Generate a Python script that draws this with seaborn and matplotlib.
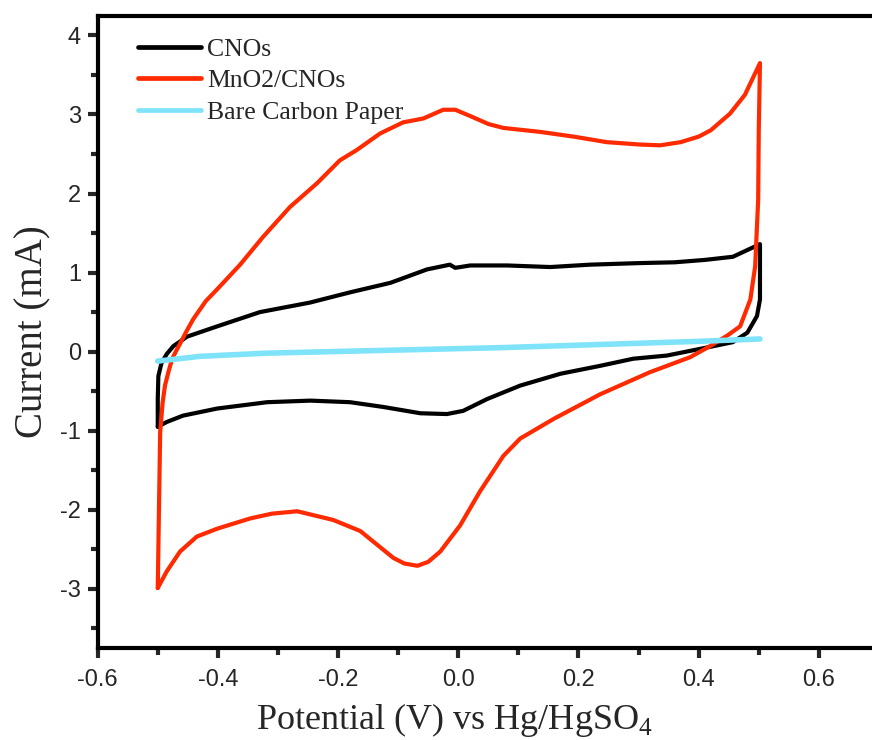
import matplotlib
matplotlib.use("Agg")
import matplotlib.pyplot as plt
import seaborn as sns
import pandas as pd
from matplotlib.ticker import MultipleLocator

# ---- data ----
cnos_v = [-0.500, -0.500, -0.499, -0.494, -0.485, -0.474, -0.451, -0.401, -0.330, -0.247,
          -0.180, -0.113, -0.052, -0.014, -0.005, 0.020, 0.081, 0.153, 0.219, 0.302,
          0.360, 0.410, 0.457, 0.502,
          0.502, 0.497, 0.481, 0.457, 0.419, 0.347, 0.291, 0.236, 0.170, 0.103,
          0.048, 0.008, -0.019, -0.063, -0.125, -0.180, -0.246, -0.318, -0.401,
          -0.458, -0.485, -0.500]
cnos_i = [-0.95, -0.60, -0.31, -0.15, -0.03, 0.07, 0.19, 0.32, 0.50, 0.62,
          0.75, 0.87, 1.04, 1.10, 1.06, 1.09, 1.09, 1.07, 1.10, 1.12,
          1.13, 1.16, 1.20, 1.36,
          0.66, 0.45, 0.24, 0.12, 0.06, -0.05, -0.09, -0.18, -0.28, -0.43,
          -0.60, -0.75, -0.79, -0.78, -0.70, -0.64, -0.62, -0.64, -0.72,
          -0.81, -0.89, -0.95]

mno2_v = [-0.500, -0.498, -0.496, -0.492, -0.488, -0.482, -0.476, -0.470, -0.463, -0.452,
          -0.441, -0.420, -0.401, -0.363, -0.325, -0.280, -0.235, -0.197, -0.169, -0.130,
          -0.092, -0.058, -0.025, -0.005, 0.020, 0.050, 0.075, 0.136, 0.192, 0.247,
          0.302, 0.336, 0.370, 0.400, 0.420, 0.452, 0.477, 0.502,
          0.500, 0.499, 0.494, 0.486, 0.469, 0.447, 0.419, 0.386, 0.319, 0.236,
          0.159, 0.103, 0.075, 0.036, 0.003, -0.030, -0.050, -0.068, -0.090, -0.108,
          -0.163, -0.208, -0.268, -0.310, -0.346, -0.401, -0.435, -0.463, -0.485, -0.500]
mno2_i = [-2.99, -2.00, -1.02, -0.65, -0.43, -0.25, -0.09, 0.00, 0.10, 0.26,
          0.41, 0.64, 0.79, 1.10, 1.45, 1.83, 2.13, 2.42, 2.55, 2.76,
          2.90, 2.95, 3.06, 3.06, 2.98, 2.88, 2.83, 2.78, 2.72, 2.65,
          2.62, 2.61, 2.65, 2.72, 2.80, 3.01, 3.25, 3.65,
          2.80, 1.92, 1.08, 0.66, 0.32, 0.20, 0.07, -0.07, -0.26, -0.54,
          -0.85, -1.10, -1.32, -1.77, -2.20, -2.53, -2.66, -2.71, -2.68, -2.61,
          -2.27, -2.13, -2.02, -2.05, -2.11, -2.24, -2.34, -2.53, -2.78, -2.99]

bare_v = [-0.500, -0.430, -0.320, -0.100, 0.070, 0.236, 0.400, 0.502]
bare_i = [-0.12, -0.06, -0.02, 0.02, 0.05, 0.09, 0.13, 0.16]

labels = ["CNOs", "MnO2/CNOs", "Bare Carbon Paper"]
colors = ["#000000", "#FF2A00", "#7FE3FA"]

x_ticks = [-0.6, -0.4, -0.2, 0.0, 0.2, 0.4, 0.6]
y_ticks = [-3, -2, -1, 0, 1, 2, 3, 4]

# ---- style ----
sns.set_style("ticks")
plt.rcParams["font.family"] = ["Liberation Sans", "DejaVu Sans"]
plt.rcParams["axes.unicode_minus"] = False
plt.rcParams["mathtext.fontset"] = "custom"
plt.rcParams["mathtext.rm"] = "Liberation Serif"

fig = plt.figure(figsize=(8.72, 7.40), dpi=100)
ax = fig.add_axes([0.112, 0.1243, 0.896, 0.8545])

series = [(cnos_v, cnos_i, 3.0), (mno2_v, mno2_i, 3.0), (bare_v, bare_i, 4.0)]
for (v, i, lw), lab, col in zip(series, labels, colors):
    df = pd.DataFrame({"v": v, "i": i})
    sns.lineplot(data=df, x="v", y="i", sort=False, estimator=None, ax=ax,
                 color=col, linewidth=lw, label=lab)
for ln in ax.get_lines():
    ln.set_solid_joinstyle("round")
    ln.set_solid_capstyle("round")

ax.set_xlim(-0.6, 0.7)
ax.set_ylim(-3.75, 4.25)
ax.set_xticks(x_ticks)
ax.set_xticklabels([f"{t:.1f}" for t in x_ticks])
ax.set_yticks(y_ticks)
ax.xaxis.set_minor_locator(MultipleLocator(0.1))
ax.yaxis.set_minor_locator(MultipleLocator(0.5))

for s in ax.spines.values():
    s.set_linewidth(3.0)
    s.set_color("black")
ax.tick_params(which="major", direction="out", length=7, width=3, labelsize=17,
               pad=5, top=False, right=False)
ax.tick_params(which="minor", direction="out", length=5, width=3, top=False, right=False)
ax.tick_params(axis="x", which="both", pad=8)

ax.set_xlabel(r"Potential (V) vs Hg/HgSO$_4$", fontsize=26,
              fontfamily="Liberation Serif")
ax.xaxis.set_label_coords(0.457, -0.083)
ax.set_ylabel("Current (mA)", fontsize=28, fontfamily="Liberation Serif", labelpad=6)

leg = ax.legend(loc="upper left", bbox_to_anchor=(0.035, 0.985), frameon=False,
                prop={"family": "Liberation Serif", "size": 18.5},
                handlelength=2.45, handletextpad=0.25, labelspacing=0.33, borderpad=0)
for h in leg.get_lines():
    h.set_linewidth(3.4)

fig.savefig("out.png", dpi=100)
